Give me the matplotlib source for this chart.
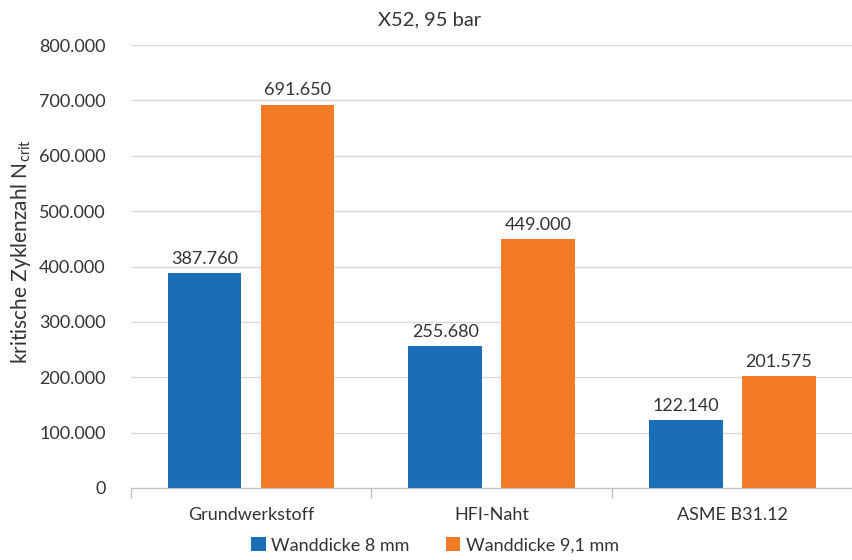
import matplotlib.pyplot as plt
import numpy as np

plt.rcParams['font.family'] = ['Lato', 'DejaVu Sans']
plt.rcParams['savefig.bbox'] = 'standard'

categories = ['Grundwerkstoff', 'HFI-Naht', 'ASME B31.12']
wand_8 = [387760, 255680, 122140]
wand_91 = [691650, 449000, 201575]
series_names = ['Wanddicke 8 mm', 'Wanddicke 9,1 mm']

blue = '#1C6DB8'
orange = '#F37B27'
textcol = '#333333'


def fmt(v):
    # German thousands separator
    return '{:,.0f}'.format(v).replace(',', '.')


W, H = 853, 560
fig = plt.figure(figsize=(W/100, H/100), dpi=100)
ax = fig.add_axes([130.6/W, 1-488/H, 722.4/W, 443/H])

x = np.arange(len(categories))
w = 0.306
off = 0.193
b1 = ax.bar(x - off, wand_8, w, color=blue, label=series_names[0], zorder=3)
b2 = ax.bar(x + off, wand_91, w, color=orange, label=series_names[1], zorder=3)

for bars, vals in [(b1, wand_8), (b2, wand_91)]:
    for b, v in zip(bars, vals):
        ax.text(b.get_x() + b.get_width()/2, v + 12000, fmt(v),
                ha='center', va='bottom', fontsize=13, color=textcol)

ax.set_ylim(0, 800000)
ax.set_xlim(-0.5, -0.5 + 722.4/244.7)
ax.set_yticks(np.arange(0, 800001, 100000))
ax.set_yticklabels([fmt(v) for v in np.arange(0, 800001, 100000)])
ax.yaxis.grid(True, color='#D9D9D9', lw=1, zorder=0)

ax.set_xticks(x)
ax.set_xticklabels(categories)
ax.set_xticks([-0.5, 0.5, 1.5, 2.5], minor=True)
ax.tick_params(axis='x', which='major', length=0, pad=14, labelsize=13, labelcolor=textcol)
ax.tick_params(axis='x', which='minor', length=7, color='#BFBFBF', width=1)
ax.tick_params(axis='y', length=0, pad=18, labelsize=13, labelcolor=textcol)

for s in ['top', 'right', 'left']:
    ax.spines[s].set_visible(False)
ax.spines['bottom'].set_color('#BFBFBF')
ax.spines['bottom'].set_zorder(4)

ax.set_ylabel('kritische Zyklenzahl N$_{\\mathregular{crit}}$', fontsize=15, color=textcol)
ax.yaxis.set_label_coords(-(130.6-33)/722.4, (488-251)/443)
fig.text(0.504, 0.965, 'X52, 95 bar', ha='center', va='center', fontsize=14.5, color=textcol)

fig.legend(handles=[b1, b2], loc='center', bbox_to_anchor=(0.51, 0.026), ncol=2,
           frameon=False, fontsize=13, handlelength=0.8, handleheight=0.8,
           columnspacing=2.0, handletextpad=0.3, labelcolor=textcol)

fig.savefig('out.png', dpi=100)
